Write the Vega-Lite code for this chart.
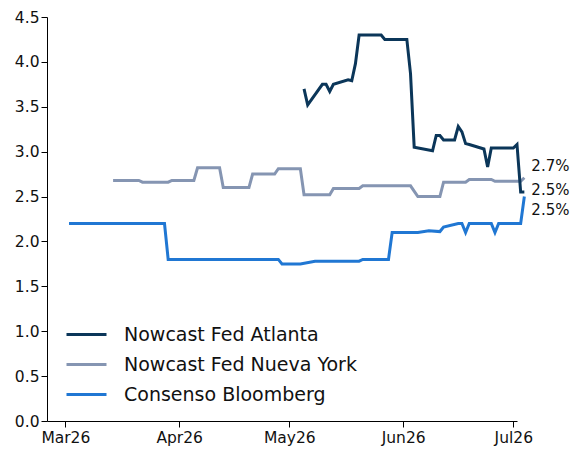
{
  "$schema": "https://vega.github.io/schema/vega-lite/v6.json",
  "width": 470,
  "height": 404,
  "autosize": {"type": "none"},
  "padding": {"left": 47, "top": 17, "right": 68, "bottom": 29},
  "background": "white",
  "config": {
    "view": {"stroke": null},
    "font": "DejaVu Sans",
    "axis": {"grid": false, "domainColor": "#000000", "tickColor": "#000000", "labelColor": "#111111", "labelFontSize": 15.5, "labelFont": "DejaVu Sans", "domainWidth": 1, "tickWidth": 1, "tickSize": 6, "title": null},
    "legend": {"labelFont": "DejaVu Sans", "labelFontSize": 19, "labelColor": "#111111"}
  },
  "datasets": {
    "series": [
      {"date": "2026-03-02", "series": "Consenso Bloomberg", "value": 2.2},
      {"date": "2026-03-28", "series": "Consenso Bloomberg", "value": 2.2},
      {"date": "2026-03-29", "series": "Consenso Bloomberg", "value": 1.8},
      {"date": "2026-04-28", "series": "Consenso Bloomberg", "value": 1.8},
      {"date": "2026-04-29", "series": "Consenso Bloomberg", "value": 1.75},
      {"date": "2026-05-04", "series": "Consenso Bloomberg", "value": 1.75},
      {"date": "2026-05-08", "series": "Consenso Bloomberg", "value": 1.78},
      {"date": "2026-05-20", "series": "Consenso Bloomberg", "value": 1.78},
      {"date": "2026-05-21", "series": "Consenso Bloomberg", "value": 1.8},
      {"date": "2026-05-28", "series": "Consenso Bloomberg", "value": 1.8},
      {"date": "2026-05-29", "series": "Consenso Bloomberg", "value": 2.1},
      {"date": "2026-06-05", "series": "Consenso Bloomberg", "value": 2.1},
      {"date": "2026-06-08", "series": "Consenso Bloomberg", "value": 2.12},
      {"date": "2026-06-11", "series": "Consenso Bloomberg", "value": 2.11},
      {"date": "2026-06-12", "series": "Consenso Bloomberg", "value": 2.16},
      {"date": "2026-06-16", "series": "Consenso Bloomberg", "value": 2.2},
      {"date": "2026-06-17", "series": "Consenso Bloomberg", "value": 2.2},
      {"date": "2026-06-18", "series": "Consenso Bloomberg", "value": 2.1},
      {"date": "2026-06-19", "series": "Consenso Bloomberg", "value": 2.2},
      {"date": "2026-06-25", "series": "Consenso Bloomberg", "value": 2.2},
      {"date": "2026-06-26", "series": "Consenso Bloomberg", "value": 2.1},
      {"date": "2026-06-27", "series": "Consenso Bloomberg", "value": 2.2},
      {"date": "2026-07-03", "series": "Consenso Bloomberg", "value": 2.2},
      {"date": "2026-07-04", "series": "Consenso Bloomberg", "value": 2.5},

      {"date": "2026-03-14", "series": "Nowcast Fed Nueva York", "value": 2.68},
      {"date": "2026-03-21", "series": "Nowcast Fed Nueva York", "value": 2.68},
      {"date": "2026-03-22", "series": "Nowcast Fed Nueva York", "value": 2.66},
      {"date": "2026-03-29", "series": "Nowcast Fed Nueva York", "value": 2.66},
      {"date": "2026-03-30", "series": "Nowcast Fed Nueva York", "value": 2.68},
      {"date": "2026-04-05", "series": "Nowcast Fed Nueva York", "value": 2.68},
      {"date": "2026-04-06", "series": "Nowcast Fed Nueva York", "value": 2.82},
      {"date": "2026-04-12", "series": "Nowcast Fed Nueva York", "value": 2.82},
      {"date": "2026-04-13", "series": "Nowcast Fed Nueva York", "value": 2.6},
      {"date": "2026-04-20", "series": "Nowcast Fed Nueva York", "value": 2.6},
      {"date": "2026-04-21", "series": "Nowcast Fed Nueva York", "value": 2.75},
      {"date": "2026-04-27", "series": "Nowcast Fed Nueva York", "value": 2.75},
      {"date": "2026-04-28", "series": "Nowcast Fed Nueva York", "value": 2.81},
      {"date": "2026-05-04", "series": "Nowcast Fed Nueva York", "value": 2.81},
      {"date": "2026-05-05", "series": "Nowcast Fed Nueva York", "value": 2.52},
      {"date": "2026-05-12", "series": "Nowcast Fed Nueva York", "value": 2.52},
      {"date": "2026-05-13", "series": "Nowcast Fed Nueva York", "value": 2.59},
      {"date": "2026-05-20", "series": "Nowcast Fed Nueva York", "value": 2.59},
      {"date": "2026-05-21", "series": "Nowcast Fed Nueva York", "value": 2.62},
      {"date": "2026-06-03", "series": "Nowcast Fed Nueva York", "value": 2.62},
      {"date": "2026-06-05", "series": "Nowcast Fed Nueva York", "value": 2.5},
      {"date": "2026-06-11", "series": "Nowcast Fed Nueva York", "value": 2.5},
      {"date": "2026-06-12", "series": "Nowcast Fed Nueva York", "value": 2.66},
      {"date": "2026-06-18", "series": "Nowcast Fed Nueva York", "value": 2.66},
      {"date": "2026-06-19", "series": "Nowcast Fed Nueva York", "value": 2.69},
      {"date": "2026-06-25", "series": "Nowcast Fed Nueva York", "value": 2.69},
      {"date": "2026-06-26", "series": "Nowcast Fed Nueva York", "value": 2.67},
      {"date": "2026-07-03", "series": "Nowcast Fed Nueva York", "value": 2.67},
      {"date": "2026-07-04", "series": "Nowcast Fed Nueva York", "value": 2.71},

      {"date": "2026-05-05", "series": "Nowcast Fed Atlanta", "value": 3.7},
      {"date": "2026-05-06", "series": "Nowcast Fed Atlanta", "value": 3.52},
      {"date": "2026-05-10", "series": "Nowcast Fed Atlanta", "value": 3.75},
      {"date": "2026-05-11", "series": "Nowcast Fed Atlanta", "value": 3.75},
      {"date": "2026-05-12", "series": "Nowcast Fed Atlanta", "value": 3.67},
      {"date": "2026-05-13", "series": "Nowcast Fed Atlanta", "value": 3.75},
      {"date": "2026-05-17", "series": "Nowcast Fed Atlanta", "value": 3.8},
      {"date": "2026-05-18", "series": "Nowcast Fed Atlanta", "value": 3.79},
      {"date": "2026-05-19", "series": "Nowcast Fed Atlanta", "value": 3.98},
      {"date": "2026-05-20", "series": "Nowcast Fed Atlanta", "value": 4.3},
      {"date": "2026-05-26", "series": "Nowcast Fed Atlanta", "value": 4.3},
      {"date": "2026-05-27", "series": "Nowcast Fed Atlanta", "value": 4.25},
      {"date": "2026-06-02", "series": "Nowcast Fed Atlanta", "value": 4.25},
      {"date": "2026-06-03", "series": "Nowcast Fed Atlanta", "value": 3.87},
      {"date": "2026-06-04", "series": "Nowcast Fed Atlanta", "value": 3.05},
      {"date": "2026-06-09", "series": "Nowcast Fed Atlanta", "value": 3.01},
      {"date": "2026-06-10", "series": "Nowcast Fed Atlanta", "value": 3.18},
      {"date": "2026-06-11", "series": "Nowcast Fed Atlanta", "value": 3.18},
      {"date": "2026-06-12", "series": "Nowcast Fed Atlanta", "value": 3.13},
      {"date": "2026-06-15", "series": "Nowcast Fed Atlanta", "value": 3.13},
      {"date": "2026-06-16", "series": "Nowcast Fed Atlanta", "value": 3.28},
      {"date": "2026-06-17", "series": "Nowcast Fed Atlanta", "value": 3.22},
      {"date": "2026-06-18", "series": "Nowcast Fed Atlanta", "value": 3.09},
      {"date": "2026-06-19", "series": "Nowcast Fed Atlanta", "value": 3.08},
      {"date": "2026-06-23", "series": "Nowcast Fed Atlanta", "value": 3.03},
      {"date": "2026-06-24", "series": "Nowcast Fed Atlanta", "value": 2.83},
      {"date": "2026-06-25", "series": "Nowcast Fed Atlanta", "value": 3.04},
      {"date": "2026-07-01", "series": "Nowcast Fed Atlanta", "value": 3.04},
      {"date": "2026-07-02", "series": "Nowcast Fed Atlanta", "value": 3.08},
      {"date": "2026-07-03", "series": "Nowcast Fed Atlanta", "value": 2.55},
      {"date": "2026-07-04", "series": "Nowcast Fed Atlanta", "value": 2.55}
    ],
    "labels": [
      {"date": "2026-07-04", "series": "Nowcast Fed Nueva York", "value": 2.71, "label": "2.7%"},
      {"date": "2026-07-04", "series": "Nowcast Fed Atlanta", "value": 2.55, "label": "2.5%"},
      {"date": "2026-07-04", "series": "Consenso Bloomberg", "value": 2.5, "label": "2.5%"}
    ]
  },
  "layer": [
    {
      "data": {"name": "series"},
      "mark": {"type": "line", "strokeWidth": 3, "interpolate": "linear", "clip": false},
      "encoding": {
        "x": {
          "field": "date", "type": "temporal",
          "scale": {"type": "utc", "domain": [{"year": 2026, "month": 2, "date": 24, "utc": true}, {"year": 2026, "month": 7, "date": 2, "utc": true}]},
          "axis": {
            "labelExpr": "utcFormat(datum.value, '%b%y')", "labelPadding": 3,
            "values": [
              {"year": 2026, "month": 3, "date": 1, "utc": true},
              {"year": 2026, "month": 4, "date": 1, "utc": true},
              {"year": 2026, "month": 5, "date": 1, "utc": true},
              {"year": 2026, "month": 6, "date": 1, "utc": true},
              {"year": 2026, "month": 7, "date": 1, "utc": true}
            ]
          }
        },
        "y": {
          "field": "value", "type": "quantitative",
          "scale": {"domain": [0, 4.5], "nice": false, "zero": true},
          "axis": {"values": [0, 0.5, 1, 1.5, 2, 2.5, 3, 3.5, 4, 4.5], "format": ".1f", "labelPadding": 2}
        },
        "color": {
          "field": "series", "type": "nominal",
          "scale": {
            "domain": ["Nowcast Fed Atlanta", "Nowcast Fed Nueva York", "Consenso Bloomberg"],
            "range": ["#0b3659", "#8595b2", "#2077d3"]
          },
          "legend": {
            "title": null, "orient": "none", "legendX": 30, "legendY": 308,
            "symbolType": "M-20,0H20", "symbolSize": 4, "symbolStrokeWidth": 3,
            "labelOffset": 28, "rowPadding": 10, "padding": 0, "labelLimit": 0
          }
        }
      }
    },
    {
      "data": {"name": "labels"},
      "transform": [{"filter": "datum.series === 'Nowcast Fed Nueva York'"}],
      "mark": {"type": "text", "align": "left", "baseline": "middle", "dx": 7, "dy": -12, "fontSize": 15, "color": "#111111", "clip": false},
      "encoding": {
        "x": {"field": "date", "type": "temporal"},
        "y": {"field": "value", "type": "quantitative"},
        "text": {"field": "label"}
      }
    },
    {
      "data": {"name": "labels"},
      "transform": [{"filter": "datum.series === 'Nowcast Fed Atlanta'"}],
      "mark": {"type": "text", "align": "left", "baseline": "middle", "dx": 7, "dy": -2, "fontSize": 15, "color": "#111111", "clip": false},
      "encoding": {
        "x": {"field": "date", "type": "temporal"},
        "y": {"field": "value", "type": "quantitative"},
        "text": {"field": "label"}
      }
    },
    {
      "data": {"name": "labels"},
      "transform": [{"filter": "datum.series === 'Consenso Bloomberg'"}],
      "mark": {"type": "text", "align": "left", "baseline": "middle", "dx": 7, "dy": 13, "fontSize": 15, "color": "#111111", "clip": false},
      "encoding": {
        "x": {"field": "date", "type": "temporal"},
        "y": {"field": "value", "type": "quantitative"},
        "text": {"field": "label"}
      }
    }
  ]
}
